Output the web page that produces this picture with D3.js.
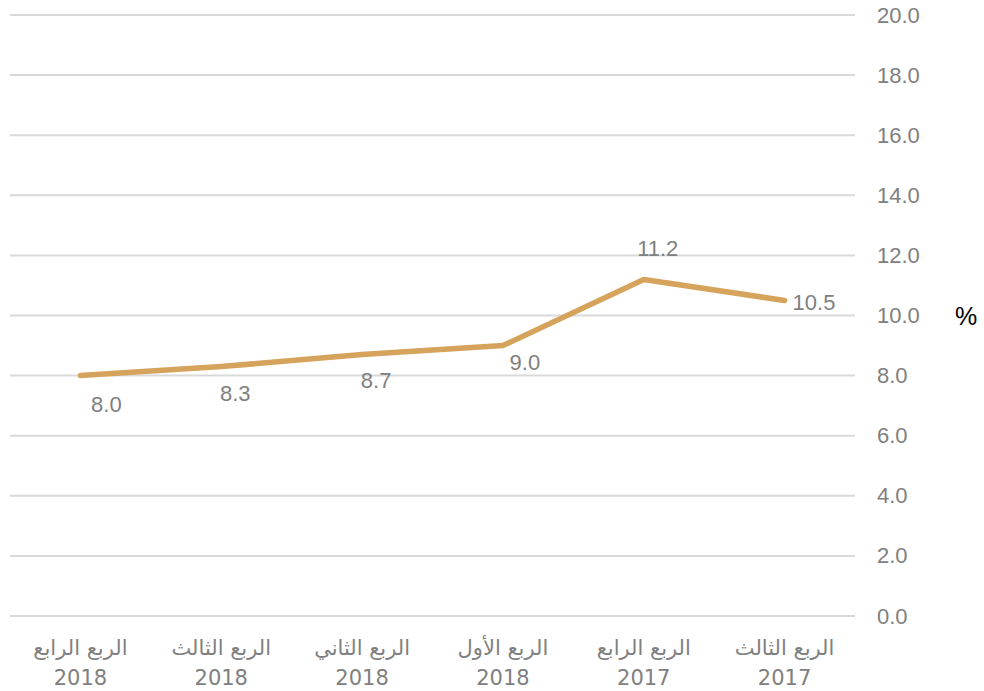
<!DOCTYPE html>
<html>
<head>
<meta charset="utf-8">
<script src="https://cdn.jsdelivr.net/npm/d3@7"></script>
<style>
  body { margin: 0; background: #fff; }
  svg { display: block; }
</style>
</head>
<body>
<svg id="chart" width="984" height="691"></svg>
<script>
// categories left to right (chart reads right-to-left)
let quarters = ["الربع الرابع", "الربع الثالث", "الربع الثاني", "الربع الأول", "الربع الرابع", "الربع الثالث"];
let years = ["2018", "2018", "2018", "2018", "2017", "2017"];
let values = [8.0, 8.3, 8.7, 9.0, 11.2, 10.5];
let yTicks = [0, 2, 4, 6, 8, 10, 12, 14, 16, 18, 20];

const svg = d3.select("svg#chart");
const plotLeft = 10, plotRight = 855, plotTop = 15, plotBottom = 616;
// label offsets from each point, in px [dx, dy]
const labelOffset = [[26, 29], [14, 27], [14, 26], [22, 17], [14, -31], [8, 2]];

let x = d3.scaleBand()
  .domain(d3.range(values.length))
  .range([plotLeft, plotRight]);

let y = d3.scaleLinear()
  .domain([0, 20])
  .range([plotBottom, plotTop]);

// gridlines
svg.append("g")
  .selectAll("line")
  .data(yTicks)
  .join("line")
  .attr("x1", plotLeft)
  .attr("x2", plotRight)
  .attr("y1", d => y(d))
  .attr("y2", d => y(d))
  .attr("stroke", "#d9d9d9")
  .attr("stroke-width", 2);

// right axis labels
let yAxis = d3.axisRight(y)
  .tickValues(yTicks)
  .tickFormat(d3.format(".1f"))
  .tickSize(0)
  .tickPadding(22);

let ga = svg.append("g")
  .attr("transform", "translate(" + plotRight + ",0)")
  .call(yAxis);
ga.select(".domain").remove();
ga.selectAll("text")
  .attr("fill", "#808080")
  .style("font-family", "'Liberation Sans', Arial, sans-serif")
  .style("font-size", "22px");

svg.append("text")
  .attr("x", 966)
  .attr("y", 316)
  .attr("text-anchor", "middle")
  .attr("dominant-baseline", "central")
  .style("font-family", "'Liberation Sans', Arial, sans-serif")
  .style("font-size", "25px")
  .attr("fill", "#000")
  .text("%");

// category labels
let cx = i => x(i) + x.bandwidth() / 2;
let gc = svg.append("g");
gc.selectAll("text.q")
  .data(quarters)
  .join("text")
  .attr("class", "q")
  .attr("x", (d, i) => cx(i))
  .attr("y", 655)
  .attr("text-anchor", "middle")
  .attr("direction", "rtl")
  .attr("fill", "#808080")
  .style("font-family", "'DejaVu Sans', sans-serif")
  .style("font-size", "21px")
  .text(d => d);
gc.selectAll("text.yr")
  .data(years)
  .join("text")
  .attr("class", "yr")
  .attr("x", (d, i) => cx(i))
  .attr("y", 685)
  .attr("text-anchor", "middle")
  .attr("fill", "#808080")
  .style("font-family", "'DejaVu Sans', sans-serif")
  .style("font-size", "21px")
  .text(d => d);

// line
let line = d3.line()
  .x((d, i) => cx(i))
  .y(d => y(d));

svg.append("path")
  .datum(values)
  .attr("d", line)
  .attr("fill", "none")
  .attr("stroke", "#d6a35c")
  .attr("stroke-width", 5.5)
  .attr("stroke-linecap", "round")
  .attr("stroke-linejoin", "round");

// data labels
svg.append("g")
  .selectAll("text")
  .data(values)
  .join("text")
  .attr("x", (d, i) => cx(i) + labelOffset[i][0])
  .attr("y", (d, i) => y(d) + labelOffset[i][1])
  .attr("text-anchor", (d, i) => i == values.length - 1 ? "start" : "middle")
  .attr("dominant-baseline", "central")
  .attr("fill", "#808080")
  .style("font-family", "'Liberation Sans', Arial, sans-serif")
  .style("font-size", "22px")
  .text(d => d.toFixed(1));
</script>
</body>
</html>
